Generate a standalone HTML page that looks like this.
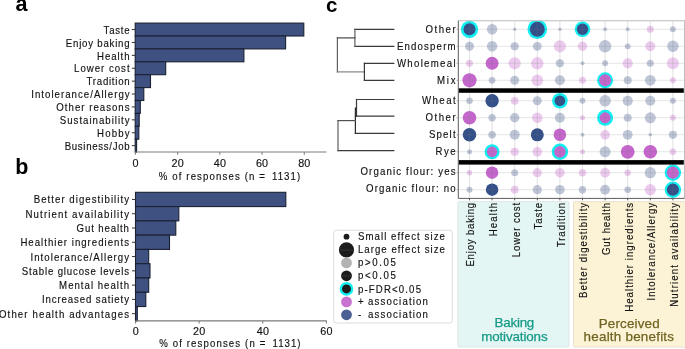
<!DOCTYPE html>
<html><head><meta charset="utf-8"><style>
html,body{margin:0;padding:0;background:#fff;width:685px;height:349px;overflow:hidden}
svg{display:block;font-family:"Liberation Sans", sans-serif;will-change:transform}
</style></head><body>
<svg width="685" height="349" viewBox="0 0 685 349">
<rect width="685" height="349" fill="#fff"/>
<text x="15.5" y="11.4" font-size="21.5" text-anchor="start" fill="#000" font-weight="bold">a</text>
<text x="15.3" y="174.0" font-size="21.5" text-anchor="start" fill="#000" font-weight="bold">b</text>
<text x="325.9" y="11.5" font-size="20.5" text-anchor="start" fill="#000" font-weight="bold">c</text>
<rect x="135.2" y="23.10" width="168.60" height="12.90" fill="#3e5180" stroke="#1b2133" stroke-width="1.1"/>
<line x1="131.8" y1="29.55" x2="135.2" y2="29.55" stroke="#333" stroke-width="1"/>
<text transform="translate(103.60,33.75) scale(0.92,1)" font-size="10.5" text-anchor="start" fill="#111" font-weight="normal" textLength="28.26" lengthAdjust="spacing" stroke="#111" stroke-width="0.15">Taste</text>
<rect x="135.2" y="36.00" width="150.40" height="12.90" fill="#3e5180" stroke="#1b2133" stroke-width="1.1"/>
<line x1="131.8" y1="42.45" x2="135.2" y2="42.45" stroke="#333" stroke-width="1"/>
<text transform="translate(65.80,46.65) scale(0.92,1)" font-size="10.5" text-anchor="start" fill="#111" font-weight="normal" textLength="69.35" lengthAdjust="spacing" stroke="#111" stroke-width="0.15">Enjoy baking</text>
<rect x="135.2" y="48.90" width="108.70" height="12.90" fill="#3e5180" stroke="#1b2133" stroke-width="1.1"/>
<line x1="131.8" y1="55.35" x2="135.2" y2="55.35" stroke="#333" stroke-width="1"/>
<text transform="translate(97.00,59.55) scale(0.92,1)" font-size="10.5" text-anchor="start" fill="#111" font-weight="normal" textLength="35.43" lengthAdjust="spacing" stroke="#111" stroke-width="0.15">Health</text>
<rect x="135.2" y="61.80" width="30.50" height="12.90" fill="#3e5180" stroke="#1b2133" stroke-width="1.1"/>
<line x1="131.8" y1="68.25" x2="135.2" y2="68.25" stroke="#333" stroke-width="1"/>
<text transform="translate(74.10,72.45) scale(0.92,1)" font-size="10.5" text-anchor="start" fill="#111" font-weight="normal" textLength="60.33" lengthAdjust="spacing" stroke="#111" stroke-width="0.15">Lower cost</text>
<rect x="135.2" y="74.70" width="15.30" height="12.90" fill="#3e5180" stroke="#1b2133" stroke-width="1.1"/>
<line x1="131.8" y1="81.15" x2="135.2" y2="81.15" stroke="#333" stroke-width="1"/>
<text transform="translate(86.60,85.35) scale(0.92,1)" font-size="10.5" text-anchor="start" fill="#111" font-weight="normal" textLength="46.74" lengthAdjust="spacing" stroke="#111" stroke-width="0.15">Tradition</text>
<rect x="135.2" y="87.60" width="8.60" height="12.90" fill="#3e5180" stroke="#1b2133" stroke-width="1.1"/>
<line x1="131.8" y1="94.05" x2="135.2" y2="94.05" stroke="#333" stroke-width="1"/>
<text transform="translate(31.20,98.25) scale(0.92,1)" font-size="10.5" text-anchor="start" fill="#111" font-weight="normal" textLength="106.96" lengthAdjust="spacing" stroke="#111" stroke-width="0.15">Intolerance/Allergy</text>
<rect x="135.2" y="100.50" width="5.10" height="12.90" fill="#3e5180" stroke="#1b2133" stroke-width="1.1"/>
<line x1="131.8" y1="106.95" x2="135.2" y2="106.95" stroke="#333" stroke-width="1"/>
<text transform="translate(56.30,111.15) scale(0.92,1)" font-size="10.5" text-anchor="start" fill="#111" font-weight="normal" textLength="79.67" lengthAdjust="spacing" stroke="#111" stroke-width="0.15">Other reasons</text>
<rect x="135.2" y="113.40" width="4.00" height="12.90" fill="#3e5180" stroke="#1b2133" stroke-width="1.1"/>
<line x1="131.8" y1="119.85" x2="135.2" y2="119.85" stroke="#333" stroke-width="1"/>
<text transform="translate(59.80,124.05) scale(0.92,1)" font-size="10.5" text-anchor="start" fill="#111" font-weight="normal" textLength="75.87" lengthAdjust="spacing" stroke="#111" stroke-width="0.15">Sustainability</text>
<rect x="135.2" y="126.30" width="3.60" height="12.90" fill="#3e5180" stroke="#1b2133" stroke-width="1.1"/>
<line x1="131.8" y1="132.75" x2="135.2" y2="132.75" stroke="#333" stroke-width="1"/>
<text transform="translate(97.00,136.95) scale(0.92,1)" font-size="10.5" text-anchor="start" fill="#111" font-weight="normal" textLength="35.43" lengthAdjust="spacing" stroke="#111" stroke-width="0.15">Hobby</text>
<rect x="135.2" y="139.20" width="1.40" height="12.90" fill="#3e5180" stroke="#1b2133" stroke-width="1.1"/>
<line x1="131.8" y1="145.65" x2="135.2" y2="145.65" stroke="#333" stroke-width="1"/>
<text transform="translate(64.70,149.85) scale(0.92,1)" font-size="10.5" text-anchor="start" fill="#111" font-weight="normal" textLength="70.54" lengthAdjust="spacing" stroke="#111" stroke-width="0.15">Business/Job</text>
<line x1="135.2" y1="152.0" x2="326.4" y2="152.0" stroke="#7a7a7a" stroke-width="1.2"/>
<line x1="135.40" y1="152.0" x2="135.40" y2="154.8" stroke="#7a7a7a" stroke-width="1"/>
<text x="132.6" y="166.6" font-size="10.8" text-anchor="start" fill="#111" font-weight="normal" textLength="5.6" lengthAdjust="spacing" stroke="#111" stroke-width="0.15">0</text>
<line x1="177.62" y1="152.0" x2="177.62" y2="154.8" stroke="#7a7a7a" stroke-width="1"/>
<text x="171.6" y="166.6" font-size="10.8" text-anchor="start" fill="#111" font-weight="normal" textLength="12.1" lengthAdjust="spacing" stroke="#111" stroke-width="0.15">20</text>
<line x1="219.84" y1="152.0" x2="219.84" y2="154.8" stroke="#7a7a7a" stroke-width="1"/>
<text x="213.8" y="166.6" font-size="10.8" text-anchor="start" fill="#111" font-weight="normal" textLength="12.1" lengthAdjust="spacing" stroke="#111" stroke-width="0.15">40</text>
<line x1="262.06" y1="152.0" x2="262.06" y2="154.8" stroke="#7a7a7a" stroke-width="1"/>
<text x="256.0" y="166.6" font-size="10.8" text-anchor="start" fill="#111" font-weight="normal" textLength="12.1" lengthAdjust="spacing" stroke="#111" stroke-width="0.15">60</text>
<line x1="304.28" y1="152.0" x2="304.28" y2="154.8" stroke="#7a7a7a" stroke-width="1"/>
<text x="298.2" y="166.6" font-size="10.8" text-anchor="start" fill="#111" font-weight="normal" textLength="12.1" lengthAdjust="spacing" stroke="#111" stroke-width="0.15">80</text>
<text transform="translate(158.70,180.10) scale(0.92,1)" font-size="10.5" text-anchor="start" fill="#111" font-weight="normal" textLength="115.54" lengthAdjust="spacing" stroke="#111" stroke-width="0.15">% of responses (n =</text>
<text transform="translate(272.00,180.10) scale(0.92,1)" font-size="10.5" text-anchor="start" fill="#111" font-weight="normal" textLength="30.54" lengthAdjust="spacing" stroke="#111" stroke-width="0.15">1131)</text>
<rect x="135.5" y="192.30" width="150.30" height="14.28" fill="#3e5180" stroke="#1b2133" stroke-width="1.1"/>
<line x1="132.0" y1="199.44" x2="135.5" y2="199.44" stroke="#333" stroke-width="1"/>
<text transform="translate(33.70,203.44) scale(0.92,1)" font-size="10.5" text-anchor="start" fill="#111" font-weight="normal" textLength="103.59" lengthAdjust="spacing" stroke="#111" stroke-width="0.15">Better digestibility</text>
<rect x="135.5" y="206.58" width="43.30" height="14.28" fill="#3e5180" stroke="#1b2133" stroke-width="1.1"/>
<line x1="132.0" y1="213.72" x2="135.5" y2="213.72" stroke="#333" stroke-width="1"/>
<text transform="translate(25.50,217.72) scale(0.92,1)" font-size="10.5" text-anchor="start" fill="#111" font-weight="normal" textLength="112.50" lengthAdjust="spacing" stroke="#111" stroke-width="0.15">Nutrient availability</text>
<rect x="135.5" y="220.86" width="40.30" height="14.28" fill="#3e5180" stroke="#1b2133" stroke-width="1.1"/>
<line x1="132.0" y1="228.00" x2="135.5" y2="228.00" stroke="#333" stroke-width="1"/>
<text transform="translate(76.60,232.00) scale(0.92,1)" font-size="10.5" text-anchor="start" fill="#111" font-weight="normal" textLength="56.96" lengthAdjust="spacing" stroke="#111" stroke-width="0.15">Gut health</text>
<rect x="135.5" y="235.14" width="34.00" height="14.28" fill="#3e5180" stroke="#1b2133" stroke-width="1.1"/>
<line x1="132.0" y1="242.28" x2="135.5" y2="242.28" stroke="#333" stroke-width="1"/>
<text transform="translate(20.40,246.28) scale(0.92,1)" font-size="10.5" text-anchor="start" fill="#111" font-weight="normal" textLength="118.04" lengthAdjust="spacing" stroke="#111" stroke-width="0.15">Healthier ingredients</text>
<rect x="135.5" y="249.42" width="13.20" height="14.28" fill="#3e5180" stroke="#1b2133" stroke-width="1.1"/>
<line x1="132.0" y1="256.56" x2="135.5" y2="256.56" stroke="#333" stroke-width="1"/>
<text transform="translate(30.50,260.56) scale(0.92,1)" font-size="10.5" text-anchor="start" fill="#111" font-weight="normal" textLength="107.07" lengthAdjust="spacing" stroke="#111" stroke-width="0.15">Intolerance/Allergy</text>
<rect x="135.5" y="263.70" width="14.50" height="14.28" fill="#3e5180" stroke="#1b2133" stroke-width="1.1"/>
<line x1="132.0" y1="270.84" x2="135.5" y2="270.84" stroke="#333" stroke-width="1"/>
<text transform="translate(21.80,274.84) scale(0.92,1)" font-size="10.5" text-anchor="start" fill="#111" font-weight="normal" textLength="116.52" lengthAdjust="spacing" stroke="#111" stroke-width="0.15">Stable glucose levels</text>
<rect x="135.5" y="277.98" width="13.20" height="14.28" fill="#3e5180" stroke="#1b2133" stroke-width="1.1"/>
<line x1="132.0" y1="285.12" x2="135.5" y2="285.12" stroke="#333" stroke-width="1"/>
<text transform="translate(59.10,289.12) scale(0.92,1)" font-size="10.5" text-anchor="start" fill="#111" font-weight="normal" textLength="75.98" lengthAdjust="spacing" stroke="#111" stroke-width="0.15">Mental health</text>
<rect x="135.5" y="292.26" width="10.30" height="14.28" fill="#3e5180" stroke="#1b2133" stroke-width="1.1"/>
<line x1="132.0" y1="299.40" x2="135.5" y2="299.40" stroke="#333" stroke-width="1"/>
<text transform="translate(41.90,303.40) scale(0.92,1)" font-size="10.5" text-anchor="start" fill="#111" font-weight="normal" textLength="94.67" lengthAdjust="spacing" stroke="#111" stroke-width="0.15">Increased satiety</text>
<rect x="135.5" y="306.54" width="1.80" height="14.28" fill="#3e5180" stroke="#1b2133" stroke-width="1.1"/>
<line x1="132.0" y1="313.68" x2="135.5" y2="313.68" stroke="#333" stroke-width="1"/>
<text transform="translate(-1.00,317.68) scale(0.92,1)" font-size="10.5" text-anchor="start" fill="#111" font-weight="normal" textLength="141.30" lengthAdjust="spacing" stroke="#111" stroke-width="0.15">Other health advantages</text>
<line x1="135.5" y1="320.9" x2="326.7" y2="320.9" stroke="#7a7a7a" stroke-width="1.2"/>
<line x1="135.60" y1="320.9" x2="135.60" y2="323.6" stroke="#7a7a7a" stroke-width="1"/>
<text x="132.8" y="335.2" font-size="10.8" text-anchor="start" fill="#111" font-weight="normal" textLength="5.6" lengthAdjust="spacing" stroke="#111" stroke-width="0.15">0</text>
<line x1="199.20" y1="320.9" x2="199.20" y2="323.6" stroke="#7a7a7a" stroke-width="1"/>
<text x="193.1" y="335.2" font-size="10.8" text-anchor="start" fill="#111" font-weight="normal" textLength="12.1" lengthAdjust="spacing" stroke="#111" stroke-width="0.15">20</text>
<line x1="262.80" y1="320.9" x2="262.80" y2="323.6" stroke="#7a7a7a" stroke-width="1"/>
<text x="256.8" y="335.2" font-size="10.8" text-anchor="start" fill="#111" font-weight="normal" textLength="12.1" lengthAdjust="spacing" stroke="#111" stroke-width="0.15">40</text>
<line x1="326.40" y1="320.9" x2="326.40" y2="323.6" stroke="#7a7a7a" stroke-width="1"/>
<text x="320.3" y="335.2" font-size="10.8" text-anchor="start" fill="#111" font-weight="normal" textLength="12.1" lengthAdjust="spacing" stroke="#111" stroke-width="0.15">60</text>
<text transform="translate(159.20,346.80) scale(0.92,1)" font-size="10.5" text-anchor="start" fill="#111" font-weight="normal" textLength="115.33" lengthAdjust="spacing" stroke="#111" stroke-width="0.15">% of responses (n =</text>
<text transform="translate(272.50,346.80) scale(0.92,1)" font-size="10.5" text-anchor="start" fill="#111" font-weight="normal" textLength="30.43" lengthAdjust="spacing" stroke="#111" stroke-width="0.15">1131)</text>
<rect x="457.9" y="201.6" width="111.1" height="145.4" rx="1.2" fill="#e4f6f4" stroke="#d6e2e1" stroke-width="0.8"/>
<rect x="573.5" y="201.6" width="114" height="145.4" rx="1.2" fill="#fcf3d6" stroke="#e2dbc6" stroke-width="0.8"/>
<text x="494.5" y="327.4" font-size="13.4" text-anchor="start" fill="#169a86" font-weight="normal" textLength="39.8" lengthAdjust="spacing" stroke-width="0.25" stroke="#169a86">Baking</text>
<text x="481.2" y="341.1" font-size="13.4" text-anchor="start" fill="#169a86" font-weight="normal" textLength="66.4" lengthAdjust="spacing" stroke-width="0.25" stroke="#169a86">motivations</text>
<text x="598.7" y="327.5" font-size="13.4" text-anchor="start" fill="#6f6420" font-weight="normal" textLength="60.9" lengthAdjust="spacing" stroke-width="0.25" stroke="#6f6420">Perceived</text>
<text x="583.6" y="341.2" font-size="13.4" text-anchor="start" fill="#6f6420" font-weight="normal" textLength="90.4" lengthAdjust="spacing" stroke-width="0.25" stroke="#6f6420">health benefits</text>
<clipPath id="fc"><rect x="458.3" y="20.7" width="226.3" height="177.70000000000002"/></clipPath>
<g clip-path="url(#fc)">
<circle cx="469.50" cy="29.30" r="8.6" fill="#10f0f2"/>
<circle cx="469.50" cy="29.30" r="6.0" fill="#345089"/>
<circle cx="492.10" cy="29.30" r="5.2" fill="#bec6d8"/>
<circle cx="514.70" cy="29.30" r="1.7" fill="#bec6d8"/>
<circle cx="537.30" cy="29.30" r="9.8" fill="#10f0f2"/>
<circle cx="537.30" cy="29.30" r="7.45" fill="#345089"/>
<circle cx="559.90" cy="29.30" r="1.7" fill="#bec6d8"/>
<circle cx="582.50" cy="29.30" r="7.8" fill="#10f0f2"/>
<circle cx="582.50" cy="29.30" r="5.7" fill="#345089"/>
<circle cx="605.10" cy="29.30" r="2.0" fill="#bec6d8"/>
<circle cx="627.70" cy="29.30" r="2.0" fill="#bec6d8"/>
<circle cx="650.30" cy="29.30" r="3.5" fill="#edcbef"/>
<circle cx="672.90" cy="29.30" r="3.0" fill="#bec6d8"/>
<circle cx="469.50" cy="46.30" r="4.5" fill="#bec6d8"/>
<circle cx="492.10" cy="46.30" r="5.2" fill="#bec6d8"/>
<circle cx="514.70" cy="46.30" r="4.1" fill="#bec6d8"/>
<circle cx="537.30" cy="46.30" r="4.4" fill="#bec6d8"/>
<circle cx="559.90" cy="46.30" r="6.1" fill="#edcbef"/>
<circle cx="582.50" cy="46.30" r="4.7" fill="#edcbef"/>
<circle cx="605.10" cy="46.30" r="6.2" fill="#bec6d8"/>
<circle cx="627.70" cy="46.30" r="2.9" fill="#bec6d8"/>
<circle cx="650.30" cy="46.30" r="5.0" fill="#edcbef"/>
<circle cx="672.90" cy="46.30" r="5.7" fill="#bec6d8"/>
<circle cx="469.50" cy="63.30" r="3.5" fill="#edcbef"/>
<circle cx="492.10" cy="63.30" r="6.45" fill="#c466cc"/>
<circle cx="514.70" cy="63.30" r="6.1" fill="#edcbef"/>
<circle cx="537.30" cy="63.30" r="6.2" fill="#edcbef"/>
<circle cx="559.90" cy="63.30" r="4.0" fill="#bec6d8"/>
<circle cx="582.50" cy="63.30" r="2.0" fill="#bec6d8"/>
<circle cx="605.10" cy="63.30" r="3.0" fill="#bec6d8"/>
<circle cx="627.70" cy="63.30" r="5.1" fill="#edcbef"/>
<circle cx="650.30" cy="63.30" r="3.5" fill="#bec6d8"/>
<circle cx="672.90" cy="63.30" r="6.0" fill="#edcbef"/>
<circle cx="469.50" cy="80.30" r="7.1" fill="#c466cc"/>
<circle cx="492.10" cy="80.30" r="3.4" fill="#bec6d8"/>
<circle cx="514.70" cy="80.30" r="4.5" fill="#bec6d8"/>
<circle cx="537.30" cy="80.30" r="5.8" fill="#edcbef"/>
<circle cx="559.90" cy="80.30" r="5.0" fill="#bec6d8"/>
<circle cx="582.50" cy="80.30" r="3.5" fill="#edcbef"/>
<circle cx="605.10" cy="80.30" r="8.0" fill="#10f0f2"/>
<circle cx="605.10" cy="80.30" r="6.0" fill="#c466cc"/>
<circle cx="627.70" cy="80.30" r="4.0" fill="#bec6d8"/>
<circle cx="650.30" cy="80.30" r="5.4" fill="#bec6d8"/>
<circle cx="672.90" cy="80.30" r="3.0" fill="#edcbef"/>
<circle cx="469.50" cy="100.80" r="3.3" fill="#bec6d8"/>
<circle cx="492.10" cy="100.80" r="6.7" fill="#345089"/>
<circle cx="514.70" cy="100.80" r="3.9" fill="#edcbef"/>
<circle cx="537.30" cy="100.80" r="4.5" fill="#bec6d8"/>
<circle cx="559.90" cy="100.80" r="7.8" fill="#10f0f2"/>
<circle cx="559.90" cy="100.80" r="5.3" fill="#345089"/>
<circle cx="582.50" cy="100.80" r="3.0" fill="#bec6d8"/>
<circle cx="605.10" cy="100.80" r="5.8" fill="#bec6d8"/>
<circle cx="627.70" cy="100.80" r="5.1" fill="#bec6d8"/>
<circle cx="650.30" cy="100.80" r="5.0" fill="#bec6d8"/>
<circle cx="672.90" cy="100.80" r="3.0" fill="#bec6d8"/>
<circle cx="469.50" cy="117.80" r="6.8" fill="#c466cc"/>
<circle cx="492.10" cy="117.80" r="3.7" fill="#bec6d8"/>
<circle cx="514.70" cy="117.80" r="4.7" fill="#bec6d8"/>
<circle cx="537.30" cy="117.80" r="5.3" fill="#edcbef"/>
<circle cx="559.90" cy="117.80" r="5.0" fill="#bec6d8"/>
<circle cx="582.50" cy="117.80" r="2.5" fill="#edcbef"/>
<circle cx="605.10" cy="117.80" r="8.0" fill="#10f0f2"/>
<circle cx="605.10" cy="117.80" r="5.5" fill="#c466cc"/>
<circle cx="627.70" cy="117.80" r="4.0" fill="#bec6d8"/>
<circle cx="650.30" cy="117.80" r="5.5" fill="#bec6d8"/>
<circle cx="672.90" cy="117.80" r="3.0" fill="#edcbef"/>
<circle cx="469.50" cy="134.80" r="6.8" fill="#345089"/>
<circle cx="492.10" cy="134.80" r="3.8" fill="#bec6d8"/>
<circle cx="514.70" cy="134.80" r="5.0" fill="#bec6d8"/>
<circle cx="537.30" cy="134.80" r="6.5" fill="#345089"/>
<circle cx="559.90" cy="134.80" r="6.3" fill="#c466cc"/>
<circle cx="582.50" cy="134.80" r="2.0" fill="#bec6d8"/>
<circle cx="605.10" cy="134.80" r="4.8" fill="#edcbef"/>
<circle cx="627.70" cy="134.80" r="4.9" fill="#bec6d8"/>
<circle cx="650.30" cy="134.80" r="1.8" fill="#bec6d8"/>
<circle cx="672.90" cy="134.80" r="4.1" fill="#bec6d8"/>
<circle cx="469.50" cy="151.80" r="2.5" fill="#bec6d8"/>
<circle cx="492.10" cy="151.80" r="7.5" fill="#10f0f2"/>
<circle cx="492.10" cy="151.80" r="5.2" fill="#c466cc"/>
<circle cx="514.70" cy="151.80" r="4.1" fill="#edcbef"/>
<circle cx="537.30" cy="151.80" r="4.8" fill="#edcbef"/>
<circle cx="559.90" cy="151.80" r="8.2" fill="#10f0f2"/>
<circle cx="559.90" cy="151.80" r="5.8" fill="#c466cc"/>
<circle cx="582.50" cy="151.80" r="2.5" fill="#edcbef"/>
<circle cx="605.10" cy="151.80" r="5.5" fill="#bec6d8"/>
<circle cx="627.70" cy="151.80" r="6.9" fill="#c466cc"/>
<circle cx="650.30" cy="151.80" r="6.8" fill="#c466cc"/>
<circle cx="672.90" cy="151.80" r="3.3" fill="#edcbef"/>
<circle cx="469.50" cy="172.70" r="2.75" fill="#edcbef"/>
<circle cx="492.10" cy="172.70" r="6.25" fill="#c466cc"/>
<circle cx="514.70" cy="172.70" r="3.5" fill="#bec6d8"/>
<circle cx="537.30" cy="172.70" r="4.6" fill="#edcbef"/>
<circle cx="559.90" cy="172.70" r="4.8" fill="#edcbef"/>
<circle cx="582.50" cy="172.70" r="3.7" fill="#edcbef"/>
<circle cx="605.10" cy="172.70" r="4.9" fill="#edcbef"/>
<circle cx="627.70" cy="172.70" r="3.2" fill="#edcbef"/>
<circle cx="650.30" cy="172.70" r="5.6" fill="#bec6d8"/>
<circle cx="672.90" cy="172.70" r="8.2" fill="#10f0f2"/>
<circle cx="672.90" cy="172.70" r="6.1" fill="#c466cc"/>
<circle cx="469.50" cy="189.70" r="3.0" fill="#bec6d8"/>
<circle cx="492.10" cy="189.70" r="6.25" fill="#345089"/>
<circle cx="514.70" cy="189.70" r="3.9" fill="#edcbef"/>
<circle cx="537.30" cy="189.70" r="4.6" fill="#bec6d8"/>
<circle cx="559.90" cy="189.70" r="4.8" fill="#bec6d8"/>
<circle cx="582.50" cy="189.70" r="3.7" fill="#bec6d8"/>
<circle cx="605.10" cy="189.70" r="4.9" fill="#bec6d8"/>
<circle cx="627.70" cy="189.70" r="3.3" fill="#bec6d8"/>
<circle cx="650.30" cy="189.70" r="5.6" fill="#edcbef"/>
<circle cx="672.90" cy="189.70" r="8.2" fill="#10f0f2"/>
<circle cx="672.90" cy="189.70" r="6.1" fill="#345089"/>
<line x1="469.50" y1="20.7" x2="469.50" y2="198.4" stroke="rgba(120,120,120,0.2)" stroke-width="1.1"/>
<line x1="492.10" y1="20.7" x2="492.10" y2="198.4" stroke="rgba(120,120,120,0.2)" stroke-width="1.1"/>
<line x1="514.70" y1="20.7" x2="514.70" y2="198.4" stroke="rgba(120,120,120,0.2)" stroke-width="1.1"/>
<line x1="537.30" y1="20.7" x2="537.30" y2="198.4" stroke="rgba(120,120,120,0.2)" stroke-width="1.1"/>
<line x1="559.90" y1="20.7" x2="559.90" y2="198.4" stroke="rgba(120,120,120,0.2)" stroke-width="1.1"/>
<line x1="582.50" y1="20.7" x2="582.50" y2="198.4" stroke="rgba(120,120,120,0.2)" stroke-width="1.1"/>
<line x1="605.10" y1="20.7" x2="605.10" y2="198.4" stroke="rgba(120,120,120,0.2)" stroke-width="1.1"/>
<line x1="627.70" y1="20.7" x2="627.70" y2="198.4" stroke="rgba(120,120,120,0.2)" stroke-width="1.1"/>
<line x1="650.30" y1="20.7" x2="650.30" y2="198.4" stroke="rgba(120,120,120,0.2)" stroke-width="1.1"/>
<line x1="672.90" y1="20.7" x2="672.90" y2="198.4" stroke="rgba(120,120,120,0.2)" stroke-width="1.1"/>
<line x1="458.3" y1="29.30" x2="684.6" y2="29.30" stroke="rgba(120,120,120,0.2)" stroke-width="1.1"/>
<line x1="458.3" y1="46.30" x2="684.6" y2="46.30" stroke="rgba(120,120,120,0.2)" stroke-width="1.1"/>
<line x1="458.3" y1="63.30" x2="684.6" y2="63.30" stroke="rgba(120,120,120,0.2)" stroke-width="1.1"/>
<line x1="458.3" y1="80.30" x2="684.6" y2="80.30" stroke="rgba(120,120,120,0.2)" stroke-width="1.1"/>
<line x1="458.3" y1="100.80" x2="684.6" y2="100.80" stroke="rgba(120,120,120,0.2)" stroke-width="1.1"/>
<line x1="458.3" y1="117.80" x2="684.6" y2="117.80" stroke="rgba(120,120,120,0.2)" stroke-width="1.1"/>
<line x1="458.3" y1="134.80" x2="684.6" y2="134.80" stroke="rgba(120,120,120,0.2)" stroke-width="1.1"/>
<line x1="458.3" y1="151.80" x2="684.6" y2="151.80" stroke="rgba(120,120,120,0.2)" stroke-width="1.1"/>
<line x1="458.3" y1="172.70" x2="684.6" y2="172.70" stroke="rgba(120,120,120,0.2)" stroke-width="1.1"/>
<line x1="458.3" y1="189.70" x2="684.6" y2="189.70" stroke="rgba(120,120,120,0.2)" stroke-width="1.1"/>
</g>
<rect x="458.6" y="88.3" width="225.2" height="4.5" fill="#000"/>
<rect x="458.6" y="160.1" width="225.2" height="4.5" fill="#000"/>
<path d="M458.3 20.7 H684.6 V198.4" fill="none" stroke="#bdbdbd" stroke-width="1.1"/>
<path d="M458.3 20.7 V198.4 H684.6" fill="none" stroke="#5c5c5c" stroke-width="1"/>
<line x1="456.6" y1="29.30" x2="458.3" y2="29.30" stroke="#a0a0a0" stroke-width="0.9"/>
<line x1="456.6" y1="46.30" x2="458.3" y2="46.30" stroke="#a0a0a0" stroke-width="0.9"/>
<line x1="456.6" y1="63.30" x2="458.3" y2="63.30" stroke="#a0a0a0" stroke-width="0.9"/>
<line x1="456.6" y1="80.30" x2="458.3" y2="80.30" stroke="#a0a0a0" stroke-width="0.9"/>
<line x1="456.6" y1="100.80" x2="458.3" y2="100.80" stroke="#a0a0a0" stroke-width="0.9"/>
<line x1="456.6" y1="117.80" x2="458.3" y2="117.80" stroke="#a0a0a0" stroke-width="0.9"/>
<line x1="456.6" y1="134.80" x2="458.3" y2="134.80" stroke="#a0a0a0" stroke-width="0.9"/>
<line x1="456.6" y1="151.80" x2="458.3" y2="151.80" stroke="#a0a0a0" stroke-width="0.9"/>
<line x1="456.6" y1="172.70" x2="458.3" y2="172.70" stroke="#a0a0a0" stroke-width="0.9"/>
<line x1="456.6" y1="189.70" x2="458.3" y2="189.70" stroke="#a0a0a0" stroke-width="0.9"/>
<line x1="469.50" y1="198.4" x2="469.50" y2="200.3" stroke="#555" stroke-width="1"/>
<line x1="492.10" y1="198.4" x2="492.10" y2="200.3" stroke="#555" stroke-width="1"/>
<line x1="514.70" y1="198.4" x2="514.70" y2="200.3" stroke="#555" stroke-width="1"/>
<line x1="537.30" y1="198.4" x2="537.30" y2="200.3" stroke="#555" stroke-width="1"/>
<line x1="559.90" y1="198.4" x2="559.90" y2="200.3" stroke="#555" stroke-width="1"/>
<line x1="582.50" y1="198.4" x2="582.50" y2="200.3" stroke="#555" stroke-width="1"/>
<line x1="605.10" y1="198.4" x2="605.10" y2="200.3" stroke="#555" stroke-width="1"/>
<line x1="627.70" y1="198.4" x2="627.70" y2="200.3" stroke="#555" stroke-width="1"/>
<line x1="650.30" y1="198.4" x2="650.30" y2="200.3" stroke="#555" stroke-width="1"/>
<line x1="672.90" y1="198.4" x2="672.90" y2="200.3" stroke="#555" stroke-width="1"/>
<text transform="translate(425.50,33.10) scale(0.92,1)" font-size="10.5" text-anchor="start" fill="#111" font-weight="normal" textLength="32.72" lengthAdjust="spacing" stroke="#111" stroke-width="0.15">Other</text>
<text transform="translate(396.90,50.10) scale(0.92,1)" font-size="10.5" text-anchor="start" fill="#111" font-weight="normal" textLength="63.80" lengthAdjust="spacing" stroke="#111" stroke-width="0.15">Endosperm</text>
<text transform="translate(396.90,67.10) scale(0.92,1)" font-size="10.5" text-anchor="start" fill="#111" font-weight="normal" textLength="63.80" lengthAdjust="spacing" stroke="#111" stroke-width="0.15">Wholemeal</text>
<text transform="translate(437.00,84.10) scale(0.92,1)" font-size="10.5" text-anchor="start" fill="#111" font-weight="normal" textLength="20.22" lengthAdjust="spacing" stroke="#111" stroke-width="0.15">Mix</text>
<text transform="translate(422.10,104.30) scale(0.92,1)" font-size="10.5" text-anchor="start" fill="#111" font-weight="normal" textLength="36.41" lengthAdjust="spacing" stroke="#111" stroke-width="0.15">Wheat</text>
<text transform="translate(425.50,121.30) scale(0.92,1)" font-size="10.5" text-anchor="start" fill="#111" font-weight="normal" textLength="32.72" lengthAdjust="spacing" stroke="#111" stroke-width="0.15">Other</text>
<text transform="translate(429.00,138.20) scale(0.92,1)" font-size="10.5" text-anchor="start" fill="#111" font-weight="normal" textLength="28.91" lengthAdjust="spacing" stroke="#111" stroke-width="0.15">Spelt</text>
<text transform="translate(435.40,155.10) scale(0.92,1)" font-size="10.5" text-anchor="start" fill="#111" font-weight="normal" textLength="21.96" lengthAdjust="spacing" stroke="#111" stroke-width="0.15">Rye</text>
<text transform="translate(360.40,175.00) scale(0.92,1)" font-size="10.5" text-anchor="start" fill="#111" font-weight="normal" textLength="103.48" lengthAdjust="spacing" stroke="#111" stroke-width="0.15">Organic flour: yes</text>
<text transform="translate(366.00,192.30) scale(0.92,1)" font-size="10.5" text-anchor="start" fill="#111" font-weight="normal" textLength="97.39" lengthAdjust="spacing" stroke="#111" stroke-width="0.15">Organic flour: no</text>
<path d="M393.8 29.3 H354.9 M393.8 46.3 H354.9 M393.8 63.4 H364.4 M393.8 80.4 H364.4" stroke="#3a3a3a" stroke-width="1.2" fill="none" stroke-linecap="square"/>
<path d="M354.9 29.3 V46.3" stroke="#5e5e5e" stroke-width="1.2" fill="none" stroke-linecap="square"/>
<path d="M354.9 37.9 H337.4" stroke="#474747" stroke-width="1.2" fill="none" stroke-linecap="square"/>
<path d="M337.4 37.9 V71.9" stroke="#5e5e5e" stroke-width="1.2" fill="none" stroke-linecap="square"/>
<path d="M337.4 71.9 H364.4" stroke="#858585" stroke-width="1.2" fill="none" stroke-linecap="square"/>
<path d="M364.4 63.4 V80.4" stroke="#3a3a3a" stroke-width="1.2" fill="none" stroke-linecap="square"/>
<path d="M393.8 99.5 H356.5 M393.8 116.1 H355.4 M393.8 133.3 H355.4 M393.8 150.6 H338.0" stroke="#3a3a3a" stroke-width="1.2" fill="none" stroke-linecap="square"/>
<path d="M356.5 99.5 V116.1" stroke="#3a3a3a" stroke-width="1.2" fill="none" stroke-linecap="square"/>
<path d="M355.4 108.0 V133.3" stroke="#2a2a2a" stroke-width="1.2" fill="none" stroke-linecap="square"/>
<path d="M355.4 120.6 H338.0" stroke="#505050" stroke-width="1.2" fill="none" stroke-linecap="square"/>
<path d="M338.0 120.6 V150.6" stroke="#5e5e5e" stroke-width="1.2" fill="none" stroke-linecap="square"/>
<text transform="translate(474.40,202.8) rotate(-90) scale(0.92,1)" font-size="10.5" text-anchor="end" fill="#111" stroke="#111" stroke-width="0.15" textLength="69.35" lengthAdjust="spacing">Enjoy baking</text>
<text transform="translate(497.00,202.8) rotate(-90) scale(0.92,1)" font-size="10.5" text-anchor="end" fill="#111" stroke="#111" stroke-width="0.15" textLength="36.41" lengthAdjust="spacing">Health</text>
<text transform="translate(519.60,202.8) rotate(-90) scale(0.92,1)" font-size="10.5" text-anchor="end" fill="#111" stroke="#111" stroke-width="0.15" textLength="59.13" lengthAdjust="spacing">Lower cost</text>
<text transform="translate(542.20,202.8) rotate(-90) scale(0.92,1)" font-size="10.5" text-anchor="end" fill="#111" stroke="#111" stroke-width="0.15" textLength="28.91" lengthAdjust="spacing">Taste</text>
<text transform="translate(564.80,202.8) rotate(-90) scale(0.92,1)" font-size="10.5" text-anchor="end" fill="#111" stroke="#111" stroke-width="0.15" textLength="48.26" lengthAdjust="spacing">Tradition</text>
<text transform="translate(587.40,202.8) rotate(-90) scale(0.92,1)" font-size="10.5" text-anchor="end" fill="#111" stroke="#111" stroke-width="0.15" textLength="103.48" lengthAdjust="spacing">Better digestibility</text>
<text transform="translate(610.00,202.8) rotate(-90) scale(0.92,1)" font-size="10.5" text-anchor="end" fill="#111" stroke="#111" stroke-width="0.15" textLength="56.74" lengthAdjust="spacing">Gut health</text>
<text transform="translate(632.60,202.8) rotate(-90) scale(0.92,1)" font-size="10.5" text-anchor="end" fill="#111" stroke="#111" stroke-width="0.15" textLength="118.48" lengthAdjust="spacing">Healthier ingredients</text>
<text transform="translate(655.20,202.8) rotate(-90) scale(0.92,1)" font-size="10.5" text-anchor="end" fill="#111" stroke="#111" stroke-width="0.15" textLength="106.09" lengthAdjust="spacing">Intolerance/Allergy</text>
<text transform="translate(677.80,202.8) rotate(-90) scale(0.92,1)" font-size="10.5" text-anchor="end" fill="#111" stroke="#111" stroke-width="0.15" textLength="113.04" lengthAdjust="spacing">Nutrient availability</text>
<rect x="333.8" y="230.2" width="118.4" height="92.8" rx="2.5" fill="#fff" stroke="#dcdcdc" stroke-width="1"/>
<circle cx="346.5" cy="236.7" r="2.9" fill="#1c1c1c"/>
<circle cx="346.5" cy="249.9" r="7.6" fill="#1c1c1c"/>
<line x1="339" y1="250.2" x2="354" y2="250.2" stroke="#3a3a3a" stroke-width="0.8"/>
<circle cx="346.5" cy="262.9" r="5.4" fill="#b3b3b3"/>
<circle cx="346.5" cy="275.8" r="5.4" fill="#1c1c1c"/>
<line x1="341.2" y1="276.0" x2="351.8" y2="276.0" stroke="#3a3a3a" stroke-width="0.8"/>
<circle cx="346.5" cy="288.9" r="6.8" fill="#10f0f2"/>
<circle cx="346.5" cy="288.9" r="4.5" fill="#1c1c1c"/>
<circle cx="346.5" cy="301.9" r="5.4" fill="#c872d1"/>
<circle cx="346.5" cy="314.8" r="5.4" fill="#4c5f94"/>
<text transform="translate(358.00,240.30) scale(0.92,1)" font-size="10.5" text-anchor="start" fill="#111" font-weight="normal" textLength="94.46" lengthAdjust="spacing" stroke="#111" stroke-width="0.15">Small effect size</text>
<text transform="translate(358.00,253.30) scale(0.92,1)" font-size="10.5" text-anchor="start" fill="#111" font-weight="normal" textLength="94.46" lengthAdjust="spacing" stroke="#111" stroke-width="0.15">Large effect size</text>
<text transform="translate(358.00,266.30) scale(0.92,1)" font-size="10.5" text-anchor="start" fill="#111" font-weight="normal" textLength="41.20" lengthAdjust="spacing" stroke="#111" stroke-width="0.15">p&gt;0.05</text>
<text transform="translate(358.00,279.40) scale(0.92,1)" font-size="10.5" text-anchor="start" fill="#111" font-weight="normal" textLength="41.20" lengthAdjust="spacing" stroke="#111" stroke-width="0.15">p&lt;0.05</text>
<text transform="translate(358.00,292.50) scale(0.92,1)" font-size="10.5" text-anchor="start" fill="#111" font-weight="normal" textLength="68.48" lengthAdjust="spacing" stroke="#111" stroke-width="0.15">p-FDR&lt;0.05</text>
<text transform="translate(358.00,305.30) scale(0.92,1)" font-size="10.5" text-anchor="start" fill="#111" font-weight="normal" textLength="6.09" lengthAdjust="spacing" stroke="#111" stroke-width="0.15">+</text>
<text transform="translate(368.10,305.30) scale(0.92,1)" font-size="10.5" text-anchor="start" fill="#111" font-weight="normal" textLength="65.11" lengthAdjust="spacing" stroke="#111" stroke-width="0.15">association</text>
<text transform="translate(358.00,318.30) scale(0.92,1)" font-size="10.5" text-anchor="start" fill="#111" font-weight="normal" textLength="3.91" lengthAdjust="spacing" stroke="#111" stroke-width="0.15">-</text>
<text transform="translate(368.10,318.30) scale(0.92,1)" font-size="10.5" text-anchor="start" fill="#111" font-weight="normal" textLength="65.11" lengthAdjust="spacing" stroke="#111" stroke-width="0.15">association</text>
</svg>
</body></html>
